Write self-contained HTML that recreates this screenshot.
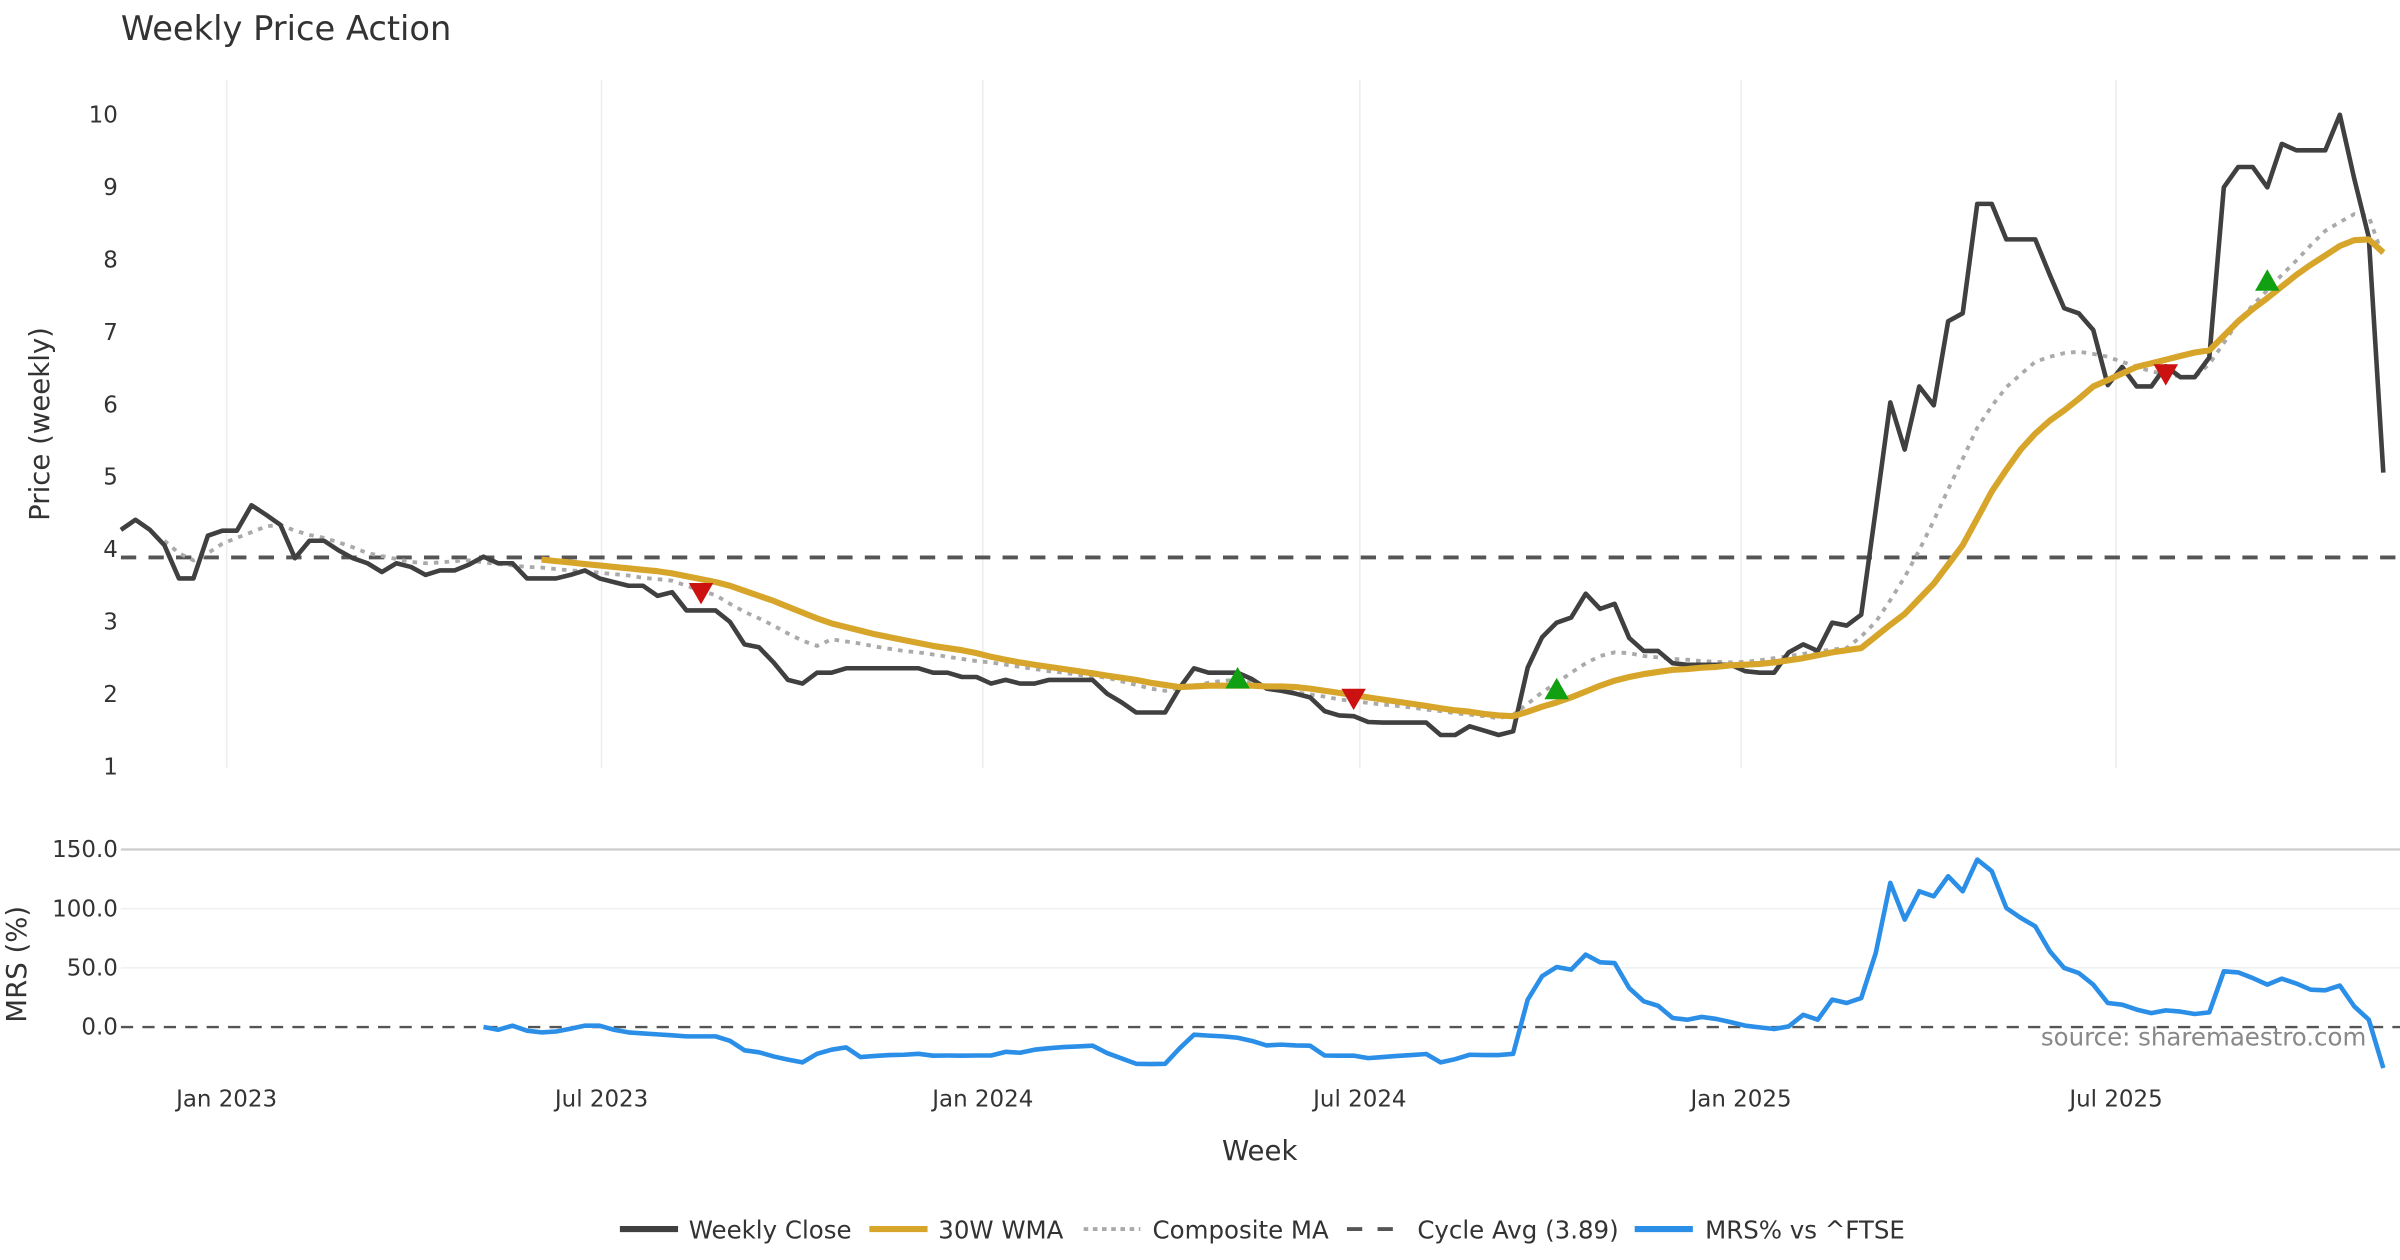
<!DOCTYPE html>
<html><head><meta charset="utf-8"><style>
html,body{margin:0;padding:0;background:#fff;}
svg{display:block;font-family:"DejaVu Sans","Liberation Sans",sans-serif;}
</style></head><body>
<svg id="chart" width="2400" height="1260" viewBox="0 0 1568 823.2" xmlns="http://www.w3.org/2000/svg">
<rect width="1568" height="823.2" fill="#fff"/>
<text x="79" y="26" font-size="22" fill="#333">Weekly Price Action</text>
<g id="grid"></g><g id="axes"></g><g id="series"></g><g id="marks"></g>
<text transform="translate(32,277) rotate(-90)" text-anchor="middle" font-size="18" fill="#333">Price (weekly)</text>
<text transform="translate(17,630) rotate(-90)" text-anchor="middle" font-size="18" fill="#333">MRS (%)</text>
<text x="823" y="758" text-anchor="middle" font-size="18" fill="#333">Week</text>
<text x="1546" y="683" text-anchor="end" font-size="16" fill="#888">source: sharemaestro.com</text>
<g font-size="16" fill="#333">
<g><line x1="405" y1="803" x2="443" y2="803" stroke="#404040" stroke-width="4"/><text x="450" y="809">Weekly Close</text></g>
<g><line x1="568" y1="803" x2="606" y2="803" stroke="#d6a52a" stroke-width="4"/><text x="613" y="809">30W WMA</text></g>
<g><line x1="708" y1="803" x2="745" y2="803" stroke="#aaa" stroke-width="2.5" stroke-dasharray="3,3"/><text x="753" y="809">Composite MA</text></g>
<g><line x1="880" y1="803" x2="917" y2="803" stroke="#555" stroke-width="2.5" stroke-dasharray="10,10"/><text x="926" y="809">Cycle Avg (3.89)</text></g>
<g><line x1="1068" y1="803" x2="1106" y2="803" stroke="#2b8fe8" stroke-width="4"/><text x="1114" y="809">MRS% vs ^FTSE</text></g>
</g>
</svg>
<script>
const closeVals=[4.27,4.41,4.27,4.06,3.60,3.60,4.19,4.26,4.26,4.61,4.48,4.34,3.88,4.12,4.12,3.99,3.88,3.81,3.69,3.81,3.76,3.65,3.71,3.71,3.79,3.90,3.81,3.81,3.60,3.60,3.60,3.65,3.71,3.60,3.55,3.50,3.50,3.36,3.41,3.16,3.16,3.16,3.00,2.69,2.65,2.44,2.20,2.15,2.30,2.30,2.36,2.36,2.36,2.36,2.36,2.36,2.30,2.30,2.24,2.24,2.15,2.20,2.15,2.15,2.20,2.20,2.20,2.20,2.01,1.89,1.75,1.75,1.75,2.09,2.36,2.30,2.30,2.30,2.21,2.08,2.05,2.01,1.96,1.77,1.71,1.70,1.62,1.61,1.61,1.61,1.61,1.44,1.44,1.56,1.50,1.44,1.49,2.37,2.79,2.99,3.06,3.39,3.18,3.25,2.78,2.60,2.60,2.43,2.41,2.41,2.41,2.41,2.32,2.30,2.30,2.58,2.69,2.60,2.99,2.95,3.10,4.55,6.03,5.38,6.25,5.99,7.15,7.26,8.77,8.77,8.28,8.28,8.28,7.79,7.33,7.26,7.03,6.27,6.52,6.25,6.25,6.53,6.38,6.38,6.65,9.00,9.28,9.28,9.00,9.60,9.51,9.51,9.51,10.0,9.12,8.31,5.06];
const wmaStart=29;
const wmaVals=[3.86,3.84,3.82,3.80,3.78,3.76,3.74,3.72,3.70,3.67,3.63,3.59,3.55,3.50,3.43,3.36,3.29,3.21,3.13,3.05,2.98,2.93,2.88,2.83,2.79,2.75,2.71,2.67,2.64,2.61,2.57,2.52,2.48,2.44,2.41,2.38,2.35,2.32,2.29,2.26,2.23,2.20,2.16,2.13,2.10,2.11,2.12,2.12,2.12,2.12,2.11,2.11,2.10,2.08,2.05,2.02,1.99,1.96,1.93,1.90,1.87,1.84,1.81,1.78,1.76,1.73,1.71,1.70,1.76,1.83,1.89,1.96,2.04,2.12,2.19,2.24,2.28,2.31,2.34,2.35,2.37,2.38,2.40,2.41,2.42,2.44,2.47,2.50,2.54,2.58,2.61,2.64,2.80,2.96,3.11,3.32,3.53,3.79,4.06,4.43,4.80,5.10,5.38,5.60,5.78,5.92,6.08,6.25,6.34,6.43,6.52,6.57,6.62,6.67,6.72,6.75,6.95,7.15,7.32,7.47,7.63,7.79,7.93,8.06,8.19,8.27,8.28,8.10];
const compStart=3;
const compVals=[4.12,3.95,3.85,3.95,4.08,4.16,4.24,4.32,4.34,4.26,4.20,4.16,4.10,4.03,3.95,3.91,3.87,3.83,3.81,3.82,3.84,3.85,3.82,3.80,3.78,3.76,3.75,3.73,3.71,3.70,3.68,3.66,3.64,3.61,3.59,3.57,3.50,3.43,3.37,3.25,3.14,3.05,2.95,2.84,2.74,2.67,2.76,2.73,2.70,2.66,2.63,2.60,2.58,2.55,2.52,2.49,2.46,2.44,2.41,2.38,2.35,2.32,2.30,2.27,2.25,2.23,2.18,2.13,2.08,2.05,2.09,2.12,2.16,2.19,2.20,2.16,2.11,2.07,2.03,2.00,1.97,1.93,1.91,1.88,1.86,1.84,1.82,1.79,1.77,1.74,1.72,1.70,1.67,1.72,1.87,2.03,2.16,2.30,2.43,2.53,2.58,2.57,2.53,2.51,2.49,2.48,2.46,2.45,2.44,2.45,2.47,2.50,2.53,2.56,2.59,2.62,2.64,2.80,3.00,3.30,3.62,3.99,4.40,4.83,5.25,5.68,5.98,6.24,6.42,6.59,6.66,6.71,6.73,6.70,6.66,6.59,6.52,6.46,6.42,6.39,6.38,6.56,6.85,7.15,7.37,7.58,7.79,7.99,8.20,8.40,8.52,8.63,8.60,8.03];
const mrsStart=25;
const mrsVals=[0,-2.3,1.1,-3.1,-4.5,-3.7,-1.4,1.1,1.1,-2.3,-4.5,-5.4,-6.2,-7.0,-7.9,-7.9,-7.9,-11.6,-19.7,-21.4,-24.8,-27.6,-29.9,-22.6,-19.2,-17.2,-25.4,-24.5,-23.7,-23.4,-22.6,-24.2,-24.0,-24.2,-24.0,-24.0,-20.9,-21.7,-19.2,-17.8,-16.9,-16.4,-15.8,-22.0,-26.5,-31.0,-31.3,-31.0,-18,-6.5,-7.3,-7.9,-9.0,-11.8,-15.5,-14.9,-15.5,-15.8,-24.0,-24.2,-24.2,-26.2,-25.4,-24.5,-23.7,-22.8,-29.9,-27.1,-23.4,-23.7,-23.7,-22.6,23.1,42.9,50.7,48.5,61.2,54.7,54.1,33.0,21.7,18.0,7.6,6.2,8.5,6.8,4.2,1.1,-0.3,-1.7,0.5,10.4,6.2,23.1,20.3,24.5,62.6,121.8,90.8,114.7,110.5,127.4,114.7,141.5,131.7,100.6,92.2,85.1,64.0,49.9,45.7,35.8,20.3,18.9,14.7,11.8,14.1,13.0,11.0,12.4,47.1,46.2,41.4,35.8,40.9,36.7,31.6,31.0,35.0,17.5,6.2,-34.7];
const sellIdx=[40,85,141];
const sellPrice=[3.39,1.93,6.41];
const buyIdx=[77,99,148];
const buyPrice=[2.23,2.08,7.72];
const priceTicks=[1,2,3,4,5,6,7,8,9,10];
const mrsTicks=[0,50,100,150];
const mrsTickLabels=["0.0","50.0","100.0","150.0"];
const dateTicks=["2023-01-01","2023-07-01","2024-01-01","2024-07-01","2025-01-01","2025-07-01"];
const dateTickLabels=["Jan 2023","Jul 2023","Jan 2024","Jul 2024","Jan 2025","Jul 2025"];
const cycleAvg=3.89;

const NS="http://www.w3.org/2000/svg";
const X0=79, WEEK=9.475;
const startDate=new Date("2022-11-11").getTime();
function xIdx(i){return X0+WEEK*i;}
function xDate(s){return X0+WEEK*((new Date(s).getTime()-startDate)/(7*86400000));}
function yP(v){return 501-(v-1)*47.33;}
function yM(v){return 671-v*0.7733;}
function mk(tag,attrs,parent){const e=document.createElementNS(NS,tag);for(const k in attrs)e.setAttribute(k,attrs[k]);parent.appendChild(e);return e;}
const grid=document.getElementById('grid'),axes=document.getElementById('axes'),series=document.getElementById('series'),marks=document.getElementById('marks');

dateTicks.forEach((d,k)=>{
  const x=xDate(d);
  const g=mk('line',{x1:x,x2:x,y1:52,y2:502,stroke:'#ebedf0','stroke-width':1},grid);
  
  
  const t=mk('text',{x:x,y:723,'text-anchor':'middle','font-size':15,fill:'#333'},axes);
  t.textContent=dateTickLabels[k];
  
  
});
priceTicks.forEach(v=>{
  const t=mk('text',{x:77,y:yP(v)+5,'text-anchor':'end','font-size':15,fill:'#333'},axes);
  t.textContent=String(v);
  
  
});
mrsTicks.forEach((v,k)=>{
  if(v>0){const l=mk('line',{x1:79,x2:1568,y1:yM(v),y2:yM(v),stroke:v===150?'#ccc':'#eef0f3','stroke-width':v===150?1.5:1},grid);
  
  }
  const t=mk('text',{x:77,y:yM(v)+5,'text-anchor':'end','font-size':15,fill:'#333'},axes);
  t.textContent=mrsTickLabels[k];
  
  
});
const z=mk('line',{x1:79,x2:1568,y1:yM(0),y2:yM(0),stroke:'#555','stroke-width':1.5,'stroke-dasharray':'8,6'},grid);


const ca=mk('line',{x1:79,x2:1568,y1:yP(cycleAvg),y2:yP(cycleAvg),stroke:'#555','stroke-width':2.5,'stroke-dasharray':'10,8'},series);



function path(vals,start,yf){return vals.map((v,i)=>(i?'L':'M')+xIdx(start+i).toFixed(1)+','+yf(v).toFixed(1)).join(' ');}
const pc=mk('path',{d:path(compVals,compStart,yP),fill:'none',stroke:'#aaa','stroke-width':2.5,'stroke-dasharray':'3,4'},series);


const pcl=mk('path',{d:path(closeVals,0,yP),fill:'none',stroke:'#404040','stroke-width':3,'stroke-linejoin':'round'},series);


const pw=mk('path',{d:path(wmaVals,wmaStart,yP),fill:'none',stroke:'#d6a52a','stroke-width':4,'stroke-linejoin':'round'},series);


const pm=mk('path',{d:path(mrsVals,mrsStart,yM),fill:'none',stroke:'#2b8fe8','stroke-width':3,'stroke-linejoin':'round'},series);



sellIdx.forEach((ix,k)=>{const x=xIdx(ix),y=yP(sellPrice[k]);
  const p=mk('path',{d:`M${x-8},${y-7} L${x+8},${y-7} L${x},${y+7} Z`,fill:'#cc1111'},marks);
  
  });
buyIdx.forEach((ix,k)=>{const x=xIdx(ix),y=yP(buyPrice[k]);
  const p=mk('path',{d:`M${x-8},${y+7} L${x+8},${y+7} L${x},${y-7} Z`,fill:'#11a011'},marks);
  
  });
</script>
</body></html>
